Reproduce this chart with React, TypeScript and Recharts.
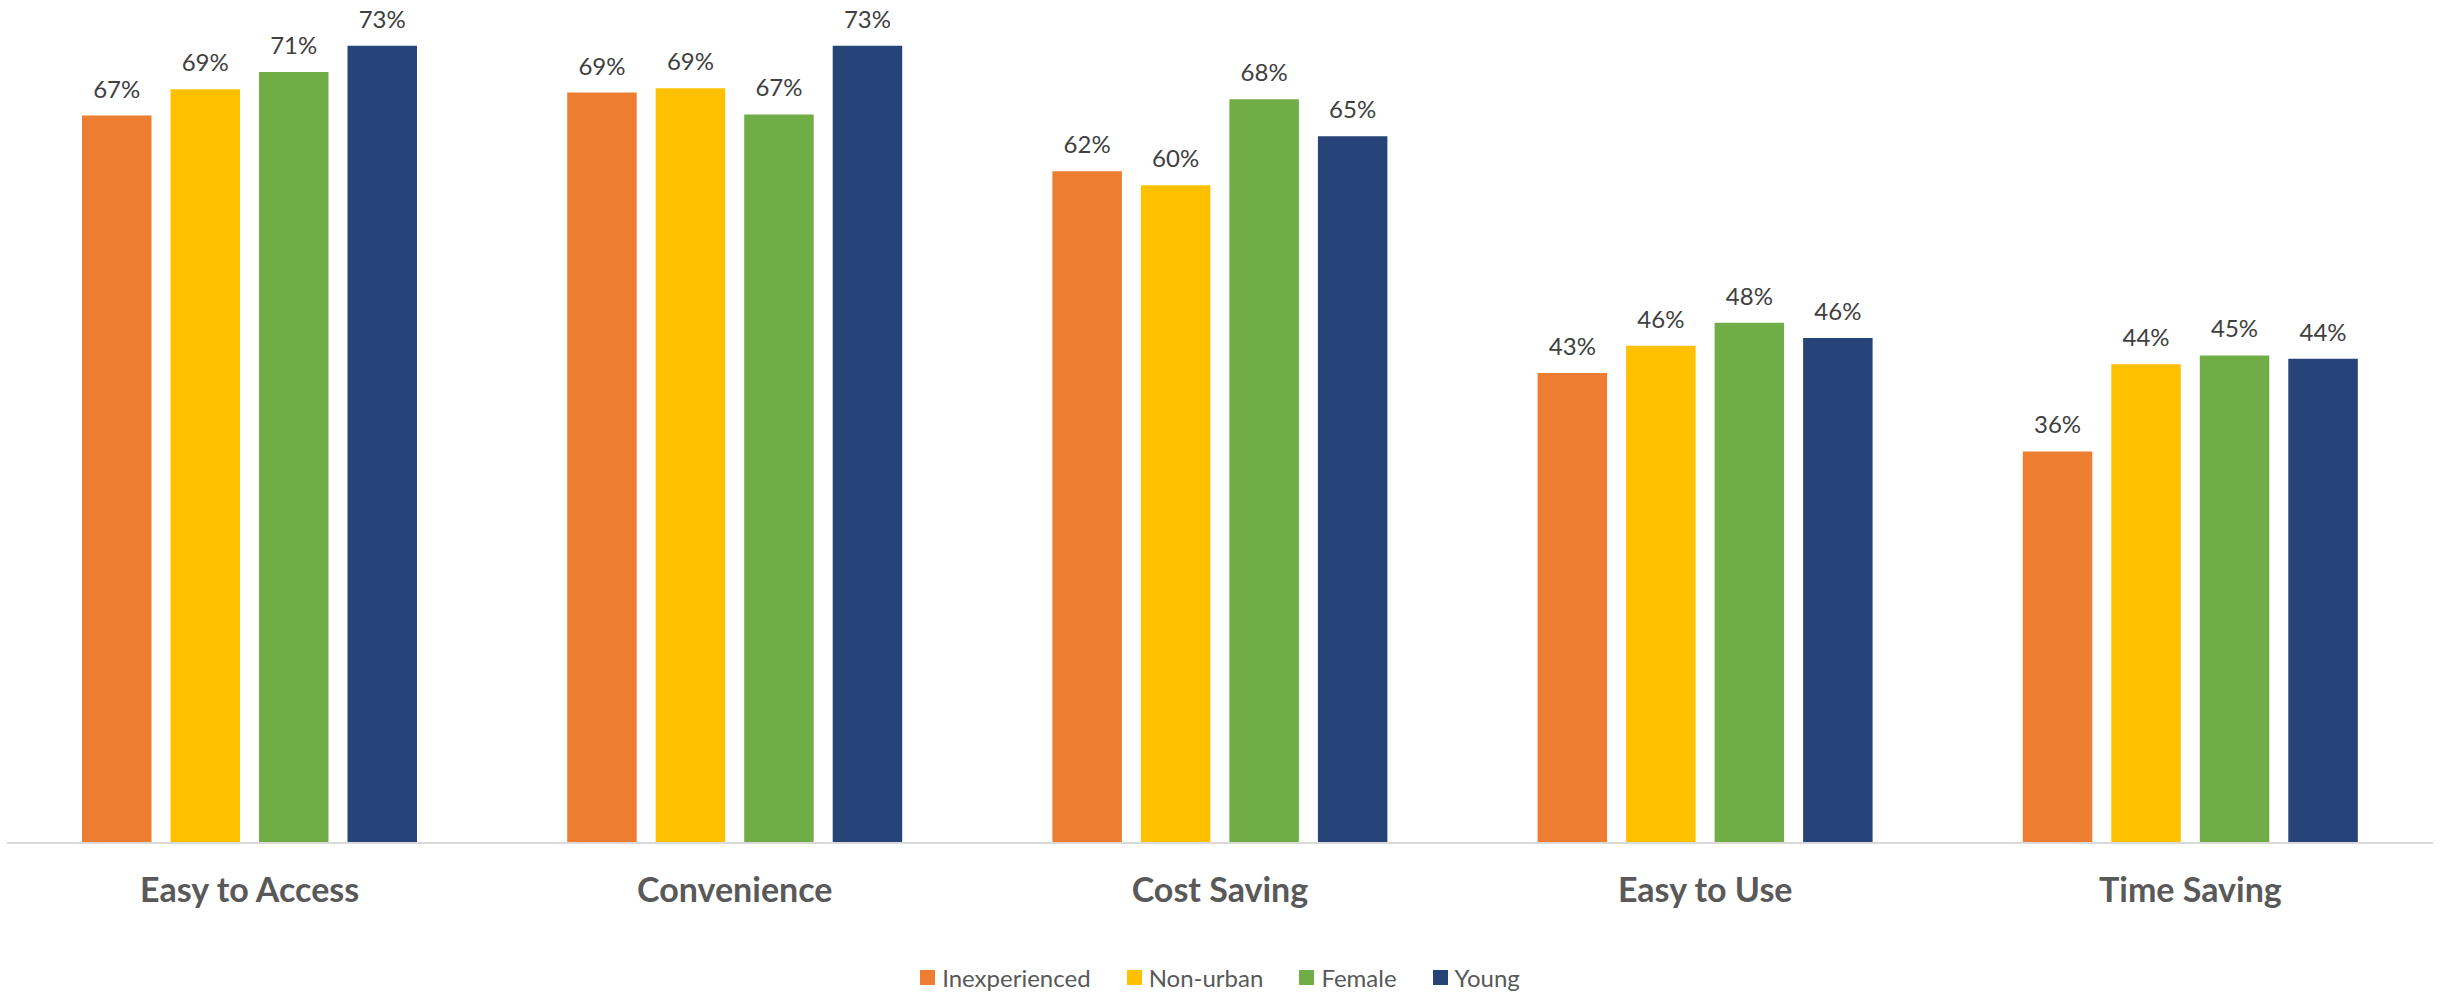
import { BarChart, Bar, XAxis, YAxis, Legend, LabelList } from 'recharts';

const categories = ['Easy to Access', 'Convenience', 'Cost Saving', 'Easy to Use', 'Time Saving'];
const inexperienced = [66.7, 68.8, 61.6, 43.1, 35.9];
const nonUrban = [69.1, 69.2, 60.3, 45.6, 43.9];
const female = [70.7, 66.8, 68.2, 47.7, 44.7];
const young = [73.1, 73.1, 64.8, 46.3, 44.4];

const seriesDefs = [
  { key: 'inexperienced', name: 'Inexperienced', color: '#ED7D31' },
  { key: 'nonUrban', name: 'Non-urban', color: '#FFC000' },
  { key: 'female', name: 'Female', color: '#70AD47' },
  { key: 'young', name: 'Young', color: '#264478' },
];

const data = categories.map((name, i) => ({
  name,
  inexperienced: inexperienced[i],
  nonUrban: nonUrban[i],
  female: female[i],
  young: young[i],
}));

const FONT = 'Lato, "Open Sans", sans-serif';

function LegendContent() {
  return (
    <div style={{ display: 'flex', justifyContent: 'center', alignItems: 'center', fontFamily: FONT, fontSize: 24, color: '#595959' }}>
      {seriesDefs.map((s) => (
        <div key={s.key} style={{ display: 'flex', alignItems: 'center', margin: '0 18px' }}>
          <span style={{ width: 15, height: 15, background: s.color, display: 'inline-block', marginRight: 7 }} />
          <span>{s.name}</span>
        </div>
      ))}
    </div>
  );
}

export default function App() {
  return (
    <div style={{ position: 'absolute', left: 0, top: 0, background: '#fff' }}>
      <BarChart
        width={2440}
        height={995}
        data={data}
        margin={{ top: 25, right: 7, bottom: 0, left: 7 }}
        barGap={19}
        barSize={69.5}
      >
        <XAxis
          dataKey="name"
          axisLine={{ stroke: '#d9d9d9', strokeWidth: 2 }}
          tickLine={false}
          tickSize={0}
          tickMargin={35}
          height={152}
          tick={{ fontFamily: FONT, fontSize: 34, fontWeight: 700, fill: '#595959' }}
        />
        <YAxis hide domain={[0, 75]} />
        <Legend
          layout="horizontal"
          verticalAlign="middle"
          align="center"
          content={<LegendContent />}
          wrapperStyle={{ top: 963, left: 0, width: 2440 }}
        />
        {seriesDefs.map((s) => (
          <Bar key={s.key} dataKey={s.key} name={s.name} fill={s.color} isAnimationActive={false}>
            <LabelList
              dataKey={s.key}
              position="top"
              offset={18}
              formatter={(v: any) => `${Math.round(Number(v))}%`}
              style={{ fontFamily: FONT, fontSize: 24, fill: '#404040' }}
            />
          </Bar>
        ))}
      </BarChart>
    </div>
  );
}
